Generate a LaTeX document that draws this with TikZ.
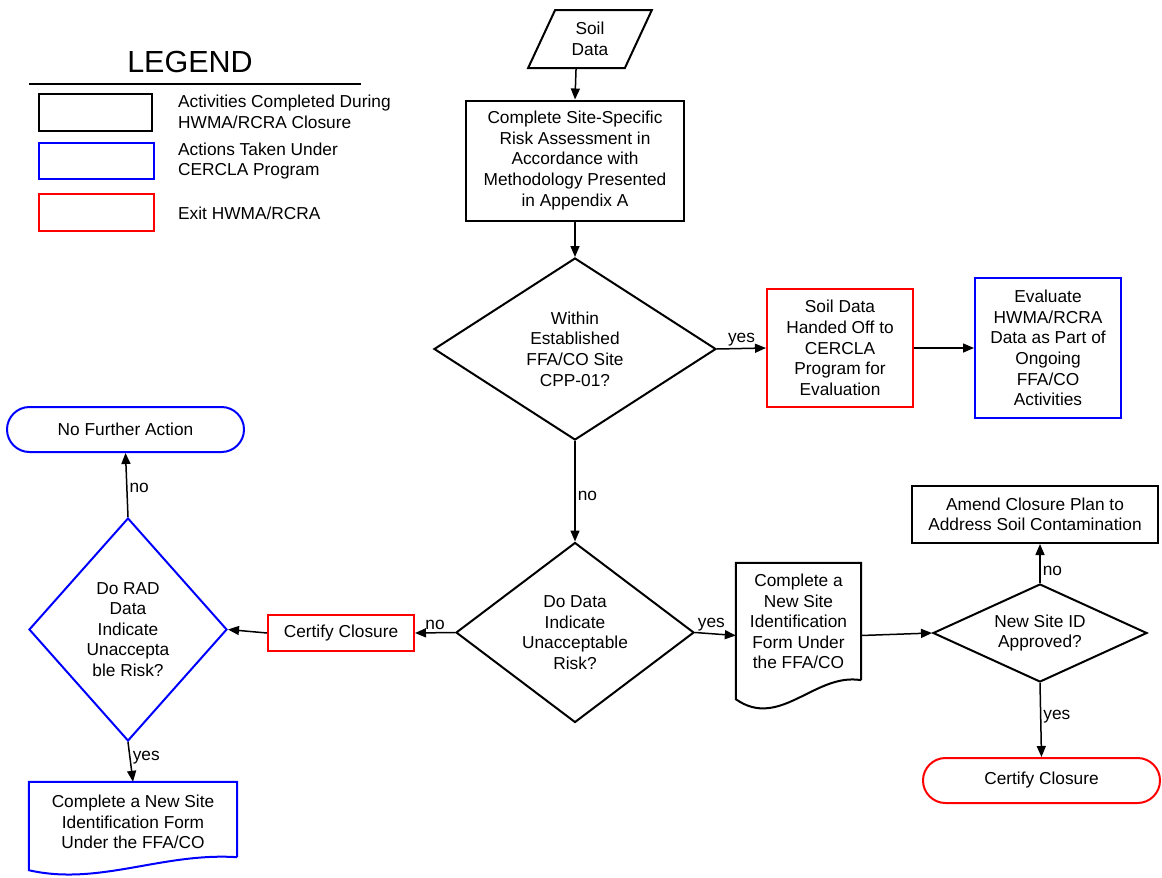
\documentclass[tikz,border=0pt]{standalone}
\usepackage{fontspec}
\setmainfont{Liberation Sans}
\usetikzlibrary{shapes.misc}
\usetikzlibrary{shapes.geometric}
\usetikzlibrary{arrows.meta,calc}

\definecolor{cblue}{RGB}{0,0,255}
\definecolor{cred}{RGB}{255,0,0}

\tikzset{
	txt/.style={font=\fontsize{17.3}{20.6}\selectfont, align=center, inner sep=0pt},
	actbox/.style={txt, draw=black, line width=2pt, rectangle},
	cerbox/.style={txt, draw=cblue, line width=2pt, rectangle},
	extbox/.style={txt, draw=cred, line width=2pt, rectangle},
	decide/.style={txt, diamond, line width=2pt},
	term/.style={txt, rounded rectangle, line width=2pt},
	flow/.style={line width=1.5pt, -{Triangle[length=11pt,width=9pt]}},
	lab/.style={font=\fontsize{17.3}{20.6}\selectfont, inner sep=2pt}
}

\begin{document}
\begin{tikzpicture}[x=1pt,y=-1pt]
		\useasboundingbox (0,0) rectangle (1162,878);
		
		% legend
		\node[font=\fontsize{30.5}{34}\selectfont] (legtitle) at (190,62) {LEGEND};
		\coordinate (legl) at (29,84);
		\coordinate (legr) at (361,84);
		\draw[line width=2.4pt] (legl) -- (legr);
		\node[actbox, minimum width=113, minimum height=37] (leg1) at (95.5,112.5) {};
		\node[cerbox, minimum width=115, minimum height=36] (leg2) at (96.5,161) {};
		\node[extbox, minimum width=115, minimum height=37] (leg3) at (96.5,212.5) {};
		\node[txt, align=left, anchor=west] (legt1) at (178,112) {Activities Completed During\\HWMA/RCRA Closure};
		\node[txt, align=left, anchor=west] (legt2) at (178,161) {Actions Taken Under\\CERCLA Program};
		\node[txt, align=left, anchor=west] (legt3) at (178,213) {Exit HWMA/RCRA};
		
		% main column
		\node[txt, draw, line width=2pt, trapezium, trapezium left angle=67, trapezium right angle=113,
		trapezium stretches=true, minimum width=124, minimum height=58] (soil) at (590,39) {Soil\\Data};
		\node[actbox, minimum width=218, minimum height=120] (risk) at (575,160.5)
		{Complete Site-Specific\\Risk Assessment in\\Accordance with\\Methodology Presented\\in Appendix A};
		\node[decide, draw=black, aspect=1.55, minimum width=282, minimum height=182] (within) at (575,349)
		{Within\\Established\\FFA/CO Site\\CPP-01?};
		\node[extbox, minimum width=146, minimum height=118] (handoff) at (840,348)
		{Soil Data\\Handed Off to\\CERCLA\\Program for\\Evaluation};
		\node[cerbox, minimum width=146, minimum height=140] (evaluate) at (1048,348)
		{Evaluate\\HWMA/RCRA\\Data as Part of\\Ongoing\\FFA/CO\\Activities};
		\node[decide, draw=black, aspect=1.32, minimum width=238, minimum height=180] (unacc) at (575,632.5)
		{Do Data\\Indicate\\Unacceptable\\Risk?};
		
		% right branch
		\node[txt, minimum width=125, minimum height=117] (newid) at (798.5,621.5)
		{Complete a\\New Site\\Identification\\Form Under\\the FFA/CO};
		\draw[line width=2pt] (newid.south east) -- (newid.north east) -- (newid.north west)
		-- ([yshift=-19pt]newid.south west) .. controls +(44pt,-31pt) and +(-46pt,8pt) .. (newid.south east);
		\node[decide, draw=black, aspect=2, minimum width=214, minimum height=98] (approved) at (1040,633)
		{New Site ID\\Approved?};
		\node[actbox, minimum width=246, minimum height=57] (amend) at (1035,514.5)
		{Amend Closure Plan to\\Address Soil Contamination};
		\node[term, draw=cred, minimum width=237, minimum height=45] (certr) at (1041.5,780.5) {Certify Closure};
		
		% left branch
		\node[extbox, minimum width=146, minimum height=36] (certl) at (341,633) {Certify Closure};
		\node[decide, draw=cblue, aspect=0.89, minimum width=198, minimum height=223] (radrisk) at (128,629.5)
		{Do RAD\\Data\\Indicate\\Unaccepta\\ble Risk?};
		\node[term, draw=cblue, minimum width=237, minimum height=45] (nfa) at (125.5,429.5) {No Further Action};
		\node[txt, minimum width=208, minimum height=75, yshift=-2.5pt] (newidl) at (133,819.5)
		{Complete a New Site\\Identification Form\\Under the FFA/CO};
		\draw[cblue, line width=2pt] ([yshift=2.5pt]newidl.south east) -- ([yshift=2.5pt]newidl.north east)
		-- ([yshift=2.5pt]newidl.north west) -- ([yshift=-10.5pt]newidl.south west)
		.. controls +(70pt,-16pt) and +(-75pt,5pt) .. ([yshift=2.5pt]newidl.south east);
		
		% connectors
		\draw[flow] ($(soil.bottom left corner)!0.5!(soil.bottom right corner)$) -- (risk.north);
		\draw[flow] (risk.south) -- (within.north);
		\draw[flow] (within.east) -- node[lab, above] {yes} (handoff.west);
		\draw[flow] (handoff.east) -- (evaluate.west);
		\draw[flow] (within.south) -- node[lab, right, pos=0.55] {no} (unacc.north);
		\draw[flow] (unacc.east) -- node[lab, above, pos=0.4] {yes} ([yshift=-14pt]newid.west);
		\draw[flow] ([yshift=-14pt]newid.east) -- (approved.west);
		\draw[flow] (approved.north) -- node[lab, right, pos=0.3] {no} (approved.north |- amend.south);
		\draw[flow] (approved.south) -- node[lab, right, pos=0.45] {yes} (certr.north);
		\draw[flow] (unacc.west) -- node[lab, above] {no} (certl.east);
		\draw[flow] (certl.west) -- (radrisk.east);
		\draw[flow] (radrisk.north) -- node[lab, right, pos=0.45] {no} (nfa.south);
		\draw[flow] (radrisk.south) -- node[lab, right, pos=0.4] {yes} ([yshift=2.5pt]newidl.north);
	\end{tikzpicture}
\end{document}
